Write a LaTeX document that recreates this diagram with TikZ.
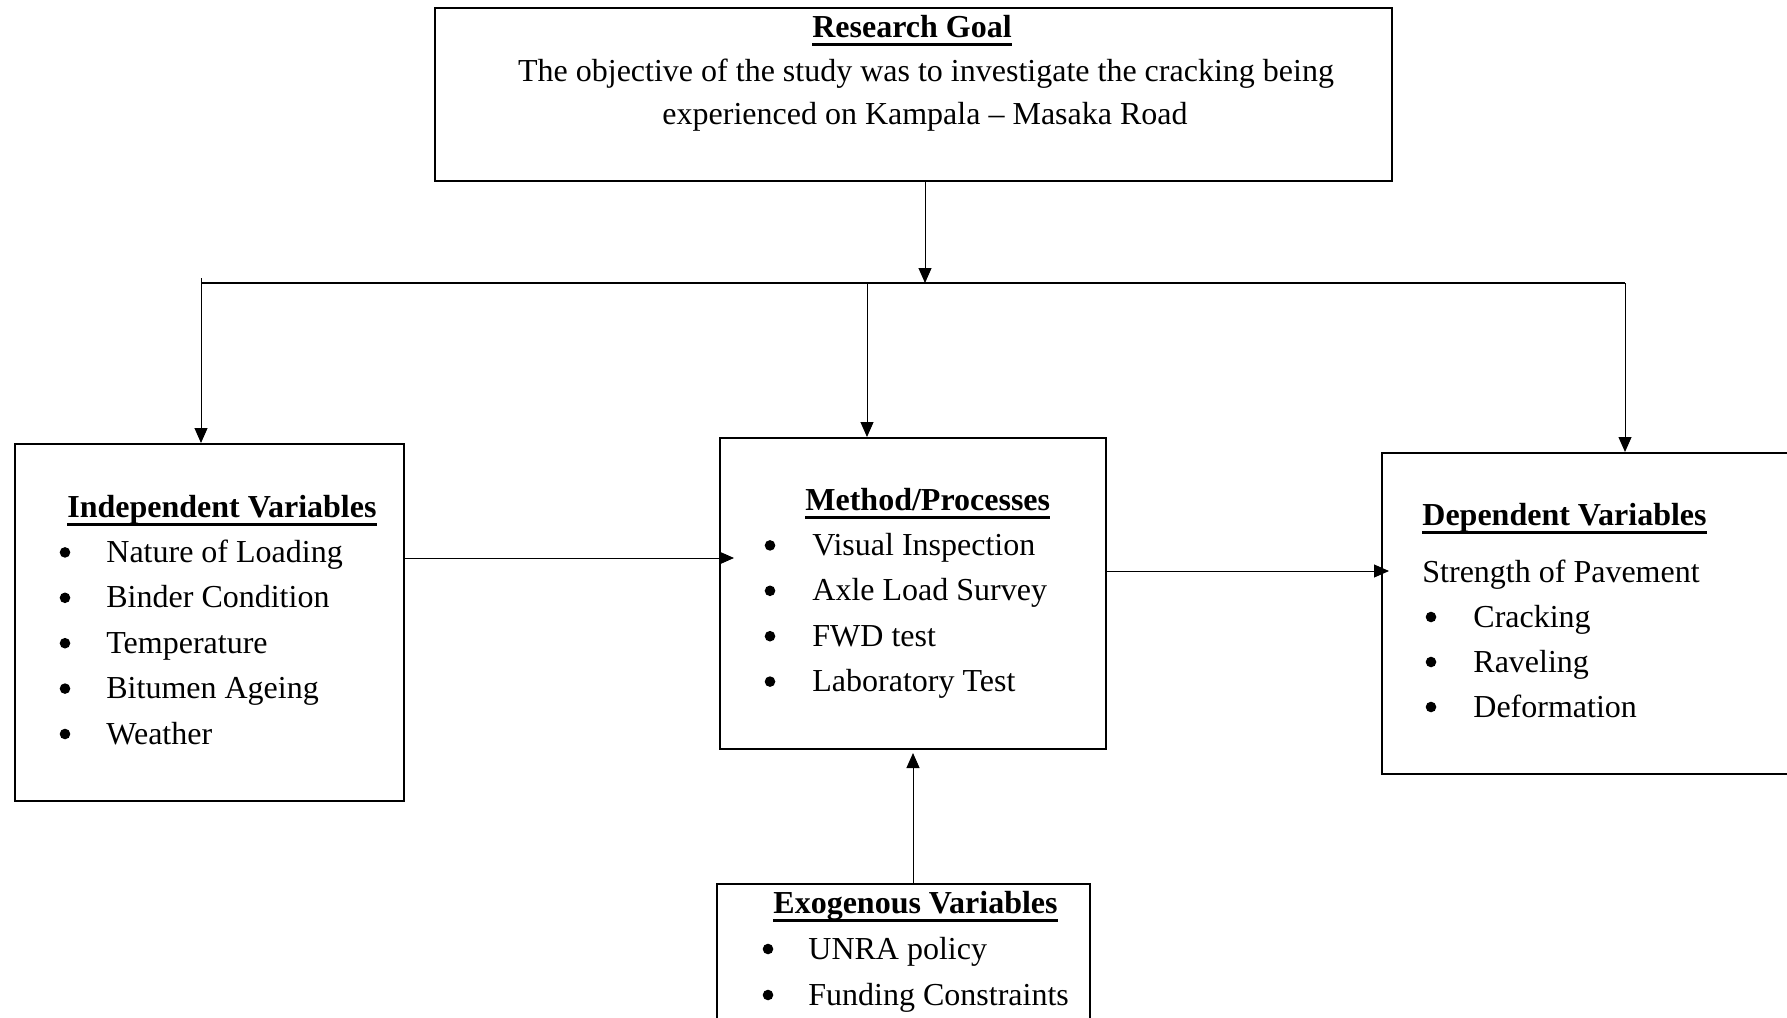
\documentclass[tikz,border=0pt]{standalone}
\usepackage{fontspec}
\setmainfont{Liberation Serif}
\usetikzlibrary{arrows.meta,fit}
\newcommand\dgfont{\fontsize{16pt}{20pt}\selectfont}
\newcommand\uln[1]{\setbox0\hbox{\bfseries #1}\rlap{\rule[-4.3pt]{\wd0}{1.4pt}}\box0}
\begin{document}
\begin{tikzpicture}[x=0.5pt,y=-0.5pt,
  box/.style={draw, line width=1pt, inner sep=0pt},
  arr/.style={line width=0.5pt, -{Triangle[length=7.5pt,width=6.5pt]}},
  bar/.style={line width=1pt},
  txt/.style={inner sep=0pt, anchor=base west, font=\dgfont},
  ctxt/.style={inner sep=0pt, anchor=base, font=\dgfont},
  bul/.style={circle, fill=black, inner sep=0pt, minimum size=5.3pt}]
\useasboundingbox (0,0) rectangle (1787,1017);
\clip (0,0) rectangle (1787,1017);
% boxes
\node[box, fit={(435,8) (1392,181)}] (rg) {};
\node[box, fit={(15,444) (404,801)}] (iv) {};
\node[box, fit={(720,438) (1106,749)}] (mp) {};
\node[box, fit={(1382,453) (1800,774)}] (dv) {};
\node[box, fit={(717,884) (1090,1030)}] (ev) {};
% research goal text
\node[ctxt] (rgt) at (912,37) {\uln{Research Goal}};
\node[ctxt] (rg1) at (926,81) {The objective of the study was to investigate the cracking being};
\node[ctxt] (rg2) at (925,124) {experienced on Kampala – Masaka Road};
% independent variables
\node[txt] (ivt) at (67,517) {\uln{Independent Variables}};
\foreach \t [count=\i] in {Nature of Loading, Binder Condition, Temperature, Bitumen Ageing, Weather}{
  \pgfmathsetmacro\yy{517+45.4*\i}
  \node[bul] (ivb\i) at (65,\yy-10) {};
  \node[txt] (ivi\i) at (106,\yy) {\t};
}
% method / processes
\node[txt] (mpt) at (805,510) {\uln{Method/Processes}};
\foreach \t [count=\i] in {Visual Inspection, Axle Load Survey, FWD test, Laboratory Test}{
  \pgfmathsetmacro\yy{510+45.4*\i}
  \node[bul] (mpb\i) at (770,\yy-10) {};
  \node[txt] (mpi\i) at (812,\yy) {\t};
}
% dependent variables
\node[txt] (dvt) at (1422,525) {\uln{Dependent Variables}};
\node[txt] (dvs) at (1422,582) {Strength of Pavement};
\foreach \t [count=\i] in {Cracking, Raveling, Deformation}{
  \pgfmathsetmacro\yy{582+45*\i}
  \node[bul] (dvb\i) at (1431,\yy-10) {};
  \node[txt] (dvi\i) at (1473,\yy) {\t};
}
% exogenous variables
\node[txt] (evt) at (773,913) {\uln{Exogenous Variables}};
\foreach \t [count=\i] in {UNRA policy, Funding Constraints}{
  \pgfmathsetmacro\yy{913+46*\i}
  \node[bul] (evb\i) at (768,\yy-10) {};
  \node[txt] (evi\i) at (808,\yy) {\t};
}
% connectors
\coordinate (hub) at (925,283);
\coordinate (hl) at (201,283);
\coordinate (hm) at (867,283);
\coordinate (hr) at (1625,283);
\coordinate (hlt) at (201,278);
\draw[arr] (rg.south -| hub) -- (hub);
\draw[bar] (hl) -- (hr);
\draw[arr] (hlt) -- (hl |- iv.north);
\draw[arr] (hm) -- (hm |- mp.north);
\draw[arr] (hr) -- (hr |- dv.north);
\coordinate (mpin) at (734,558);
\draw[arr] (iv.east |- mpin) -- (mpin);
\coordinate (dvin) at (1389,571);
\draw[arr] (mp.east |- dvin) -- (dvin);
\coordinate (mpbot) at (913,753);
\draw[arr] (ev.north -| mpbot) -- (mpbot);
\end{tikzpicture}
\end{document}
